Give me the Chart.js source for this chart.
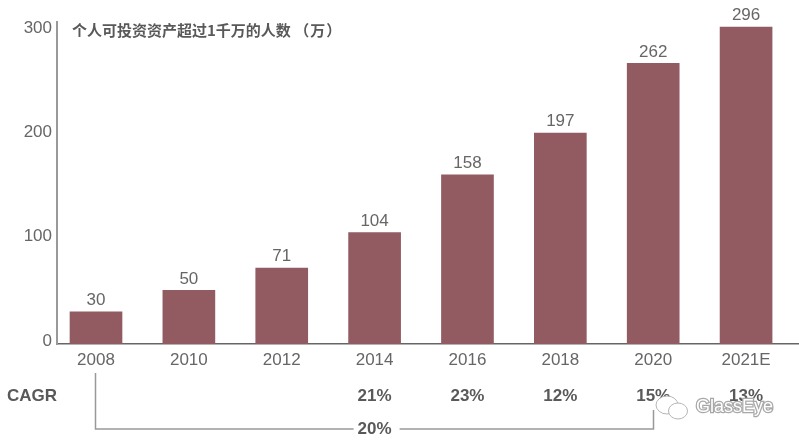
<!DOCTYPE html>
<html>
<head>
<meta charset="utf-8">
<style>html,body{margin:0;padding:0;background:#fff}#wrap{width:799px;height:443px}canvas{display:block}</style>
<script src="https://cdn.jsdelivr.net/npm/chart.js@4/dist/chart.umd.js"></script>
</head>
<body>
<div id="wrap"><canvas id="c" width="799" height="443"></canvas></div>
<script>
const categories = ['2008','2010','2012','2014','2016','2018','2020','2021E'];
const people = [30,50,71,104,158,197,262,296];
const yTicks = [0,100,200,300];
const cagrLabels = ['','','','21%','23%','12%','15%','13%'];
const cagrTitle = 'CAGR';
const overallCagr = '20%';
const chartTitle = '个人可投资资产超过1千万的人数 （\u200a万\u200a）';
const watermark = 'GlassEye';

const SANS = '"Liberation Sans", Arial, sans-serif';
const TICK = '#666666', BOLD = '#595959', LINE = '#999999';

const overlay = {
  id: 'overlay',
  afterDatasetsDraw(chart) {
    const ctx = chart.ctx, x = chart.scales.x;
    ctx.save();
    ctx.textBaseline = 'middle';
    ctx.textAlign = 'center';
    ctx.fillStyle = TICK;
    ctx.font = '17px ' + SANS;
    chart.getDatasetMeta(0).data.forEach((bar, i) => {
      ctx.fillText(String(people[i]), bar.x, bar.y - 11.5);
    });

    ctx.fillStyle = BOLD;
    ctx.font = 'bold 15px "Noto Sans CJK SC", sans-serif';
    ctx.textAlign = 'left';
    ctx.fillText(chartTitle, 72, 30);

    ctx.font = 'bold 17px ' + SANS;
    ctx.fillText(cagrTitle, 7, 396);
    ctx.textAlign = 'center';
    cagrLabels.forEach((t, i) => { if (t) ctx.fillText(t, x.getPixelForValue(i), 396); });

    const x0 = Math.round(x.getPixelForValue(0)) - 0.5;
    const x6 = Math.round(x.getPixelForValue(6)) + 0.5;
    const xm = x.getPixelForValue(3);
    ctx.strokeStyle = LINE;
    ctx.lineWidth = 1.5;
    ctx.beginPath();
    ctx.moveTo(x0, 373); ctx.lineTo(x0, 429); ctx.lineTo(xm - 21, 429);
    ctx.moveTo(xm + 25, 429); ctx.lineTo(x6, 429); ctx.lineTo(x6, 410);
    ctx.stroke();
    ctx.fillStyle = BOLD;
    ctx.fillText(overallCagr, xm, 429);

    // watermark
    ctx.fillStyle = '#ffffff';
    ctx.strokeStyle = '#b5b5b5';
    ctx.lineWidth = 1;
    ctx.beginPath(); ctx.ellipse(667, 405, 11, 9, 0, 0, Math.PI * 2); ctx.fill(); ctx.stroke();
    ctx.beginPath(); ctx.ellipse(678, 411, 9.5, 8, 0, 0, Math.PI * 2); ctx.fill(); ctx.stroke();
    ctx.font = '18px ' + SANS;
    ctx.textAlign = 'left';
    ctx.lineWidth = 2.5;
    ctx.strokeStyle = '#a8a8a8';
    ctx.strokeText(watermark, 696, 407);
    ctx.fillStyle = '#ffffff';
    ctx.fillText(watermark, 696, 407);
    ctx.restore();
  }
};

new Chart(document.getElementById('c'), {
  type: 'bar',
  data: {
    datasets: [{
      data: people.map((v, i) => ({ x: i, y: v })),
      backgroundColor: '#925a61',
      barThickness: 52,
      borderWidth: 0,
      xAxisID: 'x',
      yAxisID: 'y'
    }]
  },
  options: {
    responsive: false,
    animation: false,
    layout: { padding: { top: 22, right: 0, left: 0, bottom: 0 } },
    plugins: { legend: { display: false }, title: { display: false }, tooltip: { enabled: false } },
    scales: {
      x: {
        type: 'linear',
        offset: false,
        min: -0.42,
        max: 7.57,
        afterBuildTicks(s) { s.ticks = categories.map((_, i) => ({ value: i })); },
        afterFit(s) { s.height = 99; },
        grid: { display: false, drawTicks: false },
        border: { display: true, color: '#666666', width: 1.5 },
        ticks: {
          autoSkip: false, maxRotation: 0, minRotation: 0,
          padding: 6, color: TICK, font: { family: SANS, size: 17 },
          callback: v => categories[v]
        }
      },
      y: { display: false, min: 0, max: 300.66 },
      y2: {
        position: 'left',
        min: -2.9,
        max: 305.8,
        afterBuildTicks(s) { s.ticks = yTicks.map(v => ({ value: v })); },
        afterFit(s) { s.width = 57; },
        grid: { display: false, drawTicks: false },
        border: { display: true, color: LINE, width: 2 },
        ticks: { padding: 5, color: TICK, font: { family: SANS, size: 17 } }
      }
    }
  },
  plugins: [overlay]
});
</script>
</body>
</html>
